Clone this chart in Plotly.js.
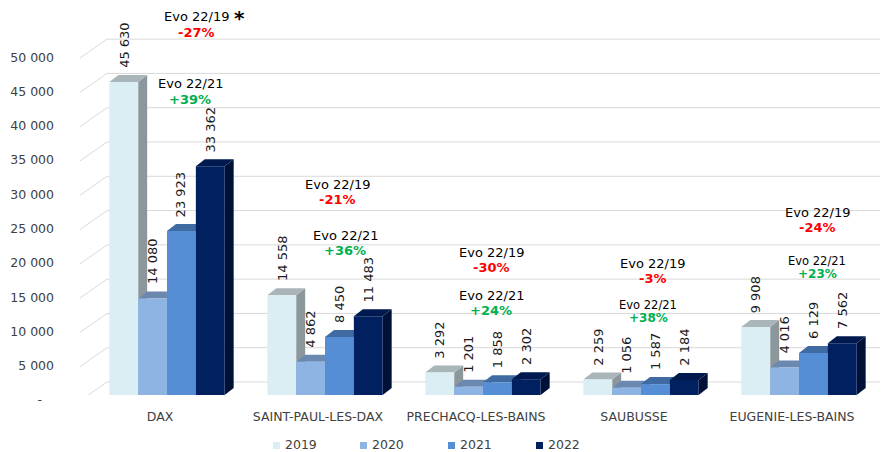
<!DOCTYPE html>
<html><head><meta charset="utf-8">
<script src="https://cdn.plot.ly/plotly-3.0.1.min.js"></script>
<style>html,body{margin:0;padding:0;background:#fff}#chart{width:888px;height:452px}</style>
</head><body><div id="chart"></div>
<script>
// ---------- data ----------
const categories = ['DAX', 'SAINT-PAUL-LES-DAX', 'PRECHACQ-LES-BAINS', 'SAUBUSSE', 'EUGENIE-LES-BAINS'];
const years = ['2019', '2020', '2021', '2022'];
const v2019 = [45630, 14558, 3292, 2259, 9908];
const v2020 = [14080, 4862, 1201, 1056, 4016];
const v2021 = [23923, 8450, 1858, 1587, 6129];
const v2022 = [33362, 11483, 2302, 2184, 7562];
const yTickVals = [0, 5000, 10000, 15000, 20000, 25000, 30000, 35000, 40000, 45000, 50000];
const yTickText = ['-\u00a0\u00a0\u00a0', '5 000', '10 000', '15 000', '20 000', '25 000', '30 000', '35 000', '40 000', '45 000', '50 000'];

// ---------- styles / layout constants ----------
const series = [v2019, v2020, v2021, v2022];
const frontCol = ['#DAEEF3', '#8DB4E2', '#558ED5', '#002060'];
const topCol   = ['#A9B5B9', '#6A88B0', '#3F6BA2', '#001A4F'];
const sideCol  = ['#8C979B', '#587196', '#355A88', '#001138'];
const W = 888, H = 452, M = {l: 88, r: 10, t: 35, b: 57};
const plotW = W - M.l - M.r, plotH = H - M.t - M.b;
const yMax = 52500;
const BAR_W = 0.1825, GROUP_START = -0.365;
const DEPTH_X = 9, DEPTH_Y = 7;
const dxU = DEPTH_X / (plotW / categories.length);
const dyU = DEPTH_Y / (plotH / yMax);
const FONT = 'DejaVu Sans, Verdana, sans-serif';
// evo text positions in pixels: [x19, y19, x21, y21, size21]
const evoPos = [
  [196, 17, 190, 84, 13],
  [337, 184, 345, 235, 13],
  [492, 252, 491, 295, 13],
  [652, 263, 648, 305, 11.5],
  [817, 212, 817, 261, 11.5]
];
// legend positions in pixels (square left edges) and row centre
const legendX = [273, 360, 448, 536];
const LEG_Y = 445.5, LEG_SQ = 7, LEG_GAP = 10;
const px2x = p => (p - M.l) / plotW;
const py2y = p => (H - M.b - p) / plotH;
const fmt = v => String(v).replace(/\B(?=(\d{3})+(?!\d))/g, ' ');
const pct = (a, b) => { const r = Math.round((a / b - 1) * 100); return (r > 0 ? '+' : '') + r + '%'; };

const traces = [];
const shapes = [];
const annotations = [];

// back-wall gridlines
yTickVals.forEach(v => {
  shapes.push({type: 'path', xref: 'paper', yref: 'y', xsizemode: 'pixel', ysizemode: 'pixel',
    xanchor: 0, yanchor: v, path: 'M-8,-6 L19,13 L792,13',
    line: {color: '#D9D9D9', width: 1}, layer: 'below'});
});

const xIdx = categories.map((c, i) => i);
series.forEach((vals, k) => {
  traces.push({
    type: 'bar', x: xIdx, y: vals, name: years[k], width: BAR_W, offset: GROUP_START + k * BAR_W,
    marker: {color: frontCol[k], line: {width: 0}}, showlegend: false, hoverinfo: 'skip', cliponaxis: false
  });
  // legend entry
  shapes.push({type: 'rect', xref: 'paper', yref: 'paper', layer: 'above', fillcolor: frontCol[k], line: {width: 0},
    x0: px2x(legendX[k]), x1: px2x(legendX[k] + LEG_SQ), y0: py2y(LEG_Y - LEG_SQ / 2), y1: py2y(LEG_Y + LEG_SQ / 2)});
  annotations.push({xref: 'paper', yref: 'paper', x: px2x(legendX[k] + LEG_GAP), y: py2y(LEG_Y - 1), text: years[k],
    showarrow: false, xanchor: 'left', yanchor: 'middle', font: {family: FONT, size: 12.5, color: '#404040'}});
});

// 3D side + top faces (drawn per category in series order)
categories.forEach((c, i) => {
  series.forEach((vals, k) => {
    const v = vals[i];
    const xl = i + GROUP_START + k * BAR_W, xr = xl + BAR_W;
    shapes.push({type: 'path', xref: 'x', yref: 'y', layer: 'below', fillcolor: sideCol[k], line: {width: 0},
      path: `M${xr},0 L${xr},${v} L${xr + dxU},${v + dyU} L${xr + dxU},${dyU} Z`});
    shapes.push({type: 'path', xref: 'x', yref: 'y', layer: 'below', fillcolor: topCol[k], line: {width: 0},
      path: `M${xl},${v} L${xr},${v} L${xr + dxU},${v + dyU} L${xl + dxU},${v + dyU} Z`});
    annotations.push({xref: 'x', yref: 'y', x: xl + BAR_W / 2, y: v, text: fmt(v), textangle: -90,
      showarrow: false, xanchor: 'center', yanchor: 'bottom', yshift: 12,
      font: {family: FONT, size: 13, color: '#1a1a1a'}});
  });
  const p = evoPos[i];
  const e19 = pct(v2022[i], v2019[i]), e21 = pct(v2022[i], v2021[i]);
  annotations.push({xref: 'paper', yref: 'paper', x: px2x(p[0]), y: py2y(p[1]), text: 'Evo 22/19',
    showarrow: false, xanchor: 'center', yanchor: 'middle', font: {family: FONT, size: 13, color: '#000'}});
  annotations.push({xref: 'paper', yref: 'paper', x: px2x(p[0]), y: py2y(p[1] + 15), text: '<b>' + e19 + '</b>',
    showarrow: false, xanchor: 'center', yanchor: 'middle', font: {family: FONT, size: 13, color: '#FF0000'}});
  annotations.push({xref: 'paper', yref: 'paper', x: px2x(p[2]), y: py2y(p[3]), text: 'Evo 22/21',
    showarrow: false, xanchor: 'center', yanchor: 'middle', font: {family: FONT, size: p[4], color: '#000'}});
  annotations.push({xref: 'paper', yref: 'paper', x: px2x(p[2]), y: py2y(p[3] + (p[4] < 13 ? 13 : 15)), text: '<b>' + e21 + '</b>',
    showarrow: false, xanchor: 'center', yanchor: 'middle', font: {family: FONT, size: p[4] < 13 ? 12 : 13, color: '#00B050'}});
});
// asterisk next to first Evo
annotations.push({xref: 'paper', yref: 'paper', x: px2x(232), y: py2y(18), text: '<b>*</b>',
  showarrow: false, xanchor: 'left', yanchor: 'middle', font: {family: FONT, size: 20, color: '#000'}});

const layout = {
  width: W, height: H, margin: M, paper_bgcolor: '#fff', plot_bgcolor: 'rgba(0,0,0,0)',
  barmode: 'overlay', showlegend: false, font: {family: FONT, color: '#404040'},
  xaxis: {range: [-0.5, 4.5], tickvals: xIdx, ticktext: categories, showgrid: false, zeroline: false,
    showline: false, ticks: '', ticklabelshift: -7, ticklabelstandoff: 12,
    tickfont: {family: FONT, size: 12.5, color: '#404040'}, fixedrange: true},
  yaxis: {range: [0, yMax], tickvals: yTickVals, ticktext: yTickText, showgrid: false, zeroline: false,
    showline: false, ticks: '', ticklabelshift: 5, ticklabelstandoff: 33,
    tickfont: {family: FONT, size: 12.5, color: '#404040'}, fixedrange: true},
  shapes: shapes, annotations: annotations
};
Plotly.newPlot('chart', traces, layout, {displayModeBar: false, staticPlot: true});
</script></body></html>
